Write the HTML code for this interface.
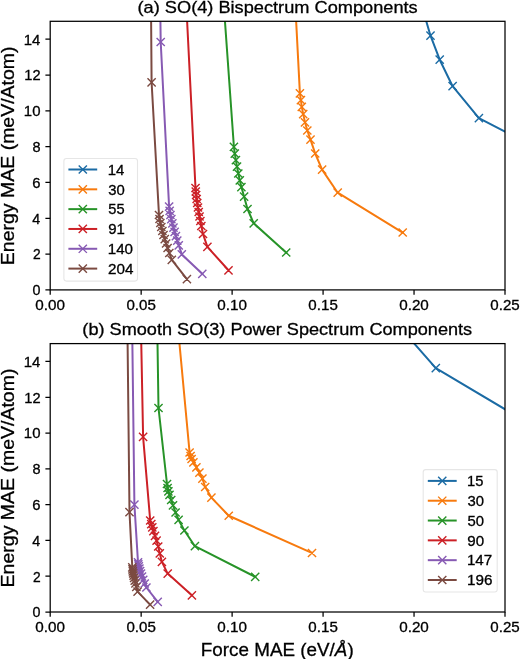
<!DOCTYPE html><html><head><meta charset="utf-8"><style>html,body{margin:0;padding:0;background:#fff;overflow:hidden}svg{display:block;will-change:transform}text{font-family:"Liberation Sans",sans-serif;font-kerning:none;fill:#000;stroke:#000;stroke-width:0.3px}</style></head><body>
<svg width="520" height="659" viewBox="0 0 520 659">
<rect width="520" height="659" fill="#fff"/>
<clipPath id="ca"><rect x="50.2" y="21.3" width="454.8" height="268.59999999999997"/></clipPath>
<g clip-path="url(#ca)">
<path d="M421.50,5.00 L430.50,35.70 L439.70,59.70 L452.60,86.20 L478.90,118.10 L540.00,150.00" fill="none" stroke="#1b6ba4" stroke-width="2.0" stroke-linejoin="round" stroke-linecap="square"/>
<path d="M426.40,31.60L434.60,39.80M426.40,39.80L434.60,31.60M435.60,55.60L443.80,63.80M435.60,63.80L443.80,55.60M448.50,82.10L456.70,90.30M448.50,90.30L456.70,82.10M474.80,114.00L483.00,122.20M474.80,122.20L483.00,114.00" fill="none" stroke="#1b6ba4" stroke-width="1.4"/>
<path d="M295.30,5.00 L299.90,93.40 L300.90,100.10 L301.80,106.90 L303.20,114.10 L305.00,122.30 L307.30,130.50 L310.50,139.60 L315.20,153.50 L322.10,169.60 L337.70,192.70 L402.70,232.50" fill="none" stroke="#f77a0e" stroke-width="2.0" stroke-linejoin="round" stroke-linecap="square"/>
<path d="M295.80,89.30L304.00,97.50M295.80,97.50L304.00,89.30M296.80,96.00L305.00,104.20M296.80,104.20L305.00,96.00M297.70,102.80L305.90,111.00M297.70,111.00L305.90,102.80M299.10,110.00L307.30,118.20M299.10,118.20L307.30,110.00M300.90,118.20L309.10,126.40M300.90,126.40L309.10,118.20M303.20,126.40L311.40,134.60M303.20,134.60L311.40,126.40M306.40,135.50L314.60,143.70M306.40,143.70L314.60,135.50M311.10,149.40L319.30,157.60M311.10,157.60L319.30,149.40M318.00,165.50L326.20,173.70M318.00,173.70L326.20,165.50M333.60,188.60L341.80,196.80M333.60,196.80L341.80,188.60M398.60,228.40L406.80,236.60M398.60,236.60L406.80,228.40" fill="none" stroke="#f77a0e" stroke-width="1.4"/>
<path d="M223.80,5.00 L233.90,146.80 L234.80,153.70 L235.90,160.20 L237.00,166.60 L238.30,173.50 L239.80,180.30 L241.40,187.10 L244.10,196.70 L247.50,209.00 L253.70,223.30 L286.20,252.50" fill="none" stroke="#279328" stroke-width="2.0" stroke-linejoin="round" stroke-linecap="square"/>
<path d="M229.80,142.70L238.00,150.90M229.80,150.90L238.00,142.70M230.70,149.60L238.90,157.80M230.70,157.80L238.90,149.60M231.80,156.10L240.00,164.30M231.80,164.30L240.00,156.10M232.90,162.50L241.10,170.70M232.90,170.70L241.10,162.50M234.20,169.40L242.40,177.60M234.20,177.60L242.40,169.40M235.70,176.20L243.90,184.40M235.70,184.40L243.90,176.20M237.30,183.00L245.50,191.20M237.30,191.20L245.50,183.00M240.00,192.60L248.20,200.80M240.00,200.80L248.20,192.60M243.40,204.90L251.60,213.10M243.40,213.10L251.60,204.90M249.60,219.20L257.80,227.40M249.60,227.40L257.80,219.20M282.10,248.40L290.30,256.60M282.10,256.60L290.30,248.40" fill="none" stroke="#279328" stroke-width="1.4"/>
<path d="M186.30,5.00 L195.50,188.00 L195.76,191.50 L196.15,195.00 L196.67,199.00 L197.25,203.00 L197.96,207.50 L198.72,212.00 L199.53,216.50 L200.37,221.00 L201.35,226.00 L203.00,234.00 L207.40,246.90 L228.50,270.30" fill="none" stroke="#cc2026" stroke-width="2.0" stroke-linejoin="round" stroke-linecap="square"/>
<path d="M191.40,183.90L199.60,192.10M191.40,192.10L199.60,183.90M191.66,187.40L199.86,195.60M191.66,195.60L199.86,187.40M192.05,190.90L200.25,199.10M192.05,199.10L200.25,190.90M192.57,194.90L200.77,203.10M192.57,203.10L200.77,194.90M193.15,198.90L201.35,207.10M193.15,207.10L201.35,198.90M193.86,203.40L202.06,211.60M193.86,211.60L202.06,203.40M194.62,207.90L202.82,216.10M194.62,216.10L202.82,207.90M195.43,212.40L203.63,220.60M195.43,220.60L203.63,212.40M196.27,216.90L204.47,225.10M196.27,225.10L204.47,216.90M197.25,221.90L205.45,230.10M197.25,230.10L205.45,221.90M198.90,229.90L207.10,238.10M198.90,238.10L207.10,229.90M203.30,242.80L211.50,251.00M203.30,251.00L211.50,242.80M224.40,266.20L232.60,274.40M224.40,274.40L232.60,266.20" fill="none" stroke="#cc2026" stroke-width="1.4"/>
<path d="M160.20,5.00 L160.70,42.00 L169.10,206.60 L169.64,210.80 L170.42,215.00 L171.34,219.20 L172.36,223.40 L173.46,227.60 L174.63,231.80 L175.91,236.20 L177.26,240.60 L178.75,245.30 L181.80,254.40 L202.30,273.80" fill="none" stroke="#875ab3" stroke-width="2.0" stroke-linejoin="round" stroke-linecap="square"/>
<path d="M156.60,37.90L164.80,46.10M156.60,46.10L164.80,37.90M165.00,202.50L173.20,210.70M165.00,210.70L173.20,202.50M165.54,206.70L173.74,214.90M165.54,214.90L173.74,206.70M166.32,210.90L174.52,219.10M166.32,219.10L174.52,210.90M167.24,215.10L175.44,223.30M167.24,223.30L175.44,215.10M168.26,219.30L176.46,227.50M168.26,227.50L176.46,219.30M169.36,223.50L177.56,231.70M169.36,231.70L177.56,223.50M170.53,227.70L178.73,235.90M170.53,235.90L178.73,227.70M171.81,232.10L180.01,240.30M171.81,240.30L180.01,232.10M173.16,236.50L181.36,244.70M173.16,244.70L181.36,236.50M174.65,241.20L182.85,249.40M174.65,249.40L182.85,241.20M177.70,250.30L185.90,258.50M177.70,258.50L185.90,250.30M198.20,269.70L206.40,277.90M198.20,277.90L206.40,269.70" fill="none" stroke="#875ab3" stroke-width="1.4"/>
<path d="M151.00,5.00 L151.60,82.30 L159.00,215.00 L159.55,219.00 L160.36,223.00 L161.31,227.00 L162.36,231.00 L163.49,235.00 L164.75,239.20 L166.11,243.50 L167.60,248.00 L169.33,253.00 L171.80,259.80 L186.90,279.20" fill="none" stroke="#7b4a41" stroke-width="2.0" stroke-linejoin="round" stroke-linecap="square"/>
<path d="M147.50,78.20L155.70,86.40M147.50,86.40L155.70,78.20M154.90,210.90L163.10,219.10M154.90,219.10L163.10,210.90M155.45,214.90L163.65,223.10M155.45,223.10L163.65,214.90M156.26,218.90L164.46,227.10M156.26,227.10L164.46,218.90M157.21,222.90L165.41,231.10M157.21,231.10L165.41,222.90M158.26,226.90L166.46,235.10M158.26,235.10L166.46,226.90M159.39,230.90L167.59,239.10M159.39,239.10L167.59,230.90M160.65,235.10L168.85,243.30M160.65,243.30L168.85,235.10M162.01,239.40L170.21,247.60M162.01,247.60L170.21,239.40M163.50,243.90L171.70,252.10M163.50,252.10L171.70,243.90M165.23,248.90L173.43,257.10M165.23,257.10L173.43,248.90M167.70,255.70L175.90,263.90M167.70,263.90L175.90,255.70M182.80,275.10L191.00,283.30M182.80,283.30L191.00,275.10" fill="none" stroke="#7b4a41" stroke-width="1.4"/>
</g>
<rect x="63.9" y="158.5" width="73.60" height="122.60" rx="2.5" fill="#fff" fill-opacity="0.8" stroke="#e6e6e6" stroke-width="1.1"/>
<path d="M68.4,169.50H97.2" stroke="#1b6ba4" stroke-width="2.0" stroke-linecap="butt"/>
<path d="M78.70,165.40L86.90,173.60M78.70,173.60L86.90,165.40" stroke="#1b6ba4" stroke-width="1.4" fill="none"/>
<text x="107.76" y="174.80" font-size="14.4" textLength="16.62" lengthAdjust="spacingAndGlyphs">14</text>
<path d="M68.4,189.32H97.2" stroke="#f77a0e" stroke-width="2.0" stroke-linecap="butt"/>
<path d="M78.70,185.22L86.90,193.42M78.70,193.42L86.90,185.22" stroke="#f77a0e" stroke-width="1.4" fill="none"/>
<text x="108.33" y="194.62" font-size="14.4" textLength="16.51" lengthAdjust="spacingAndGlyphs">30</text>
<path d="M68.4,209.14H97.2" stroke="#279328" stroke-width="2.0" stroke-linecap="butt"/>
<path d="M78.70,205.04L86.90,213.24M78.70,213.24L86.90,205.04" stroke="#279328" stroke-width="1.4" fill="none"/>
<text x="108.31" y="214.44" font-size="14.4" textLength="16.27" lengthAdjust="spacingAndGlyphs">55</text>
<path d="M68.4,228.96H97.2" stroke="#cc2026" stroke-width="2.0" stroke-linecap="butt"/>
<path d="M78.70,224.86L86.90,233.06M78.70,233.06L86.90,224.86" stroke="#cc2026" stroke-width="1.4" fill="none"/>
<text x="108.20" y="234.26" font-size="14.4" textLength="16.62" lengthAdjust="spacingAndGlyphs">91</text>
<path d="M68.4,248.78H97.2" stroke="#875ab3" stroke-width="2.0" stroke-linecap="butt"/>
<path d="M78.70,244.68L86.90,252.88M78.70,252.88L86.90,244.68" stroke="#875ab3" stroke-width="1.4" fill="none"/>
<text x="107.74" y="254.08" font-size="14.4" textLength="25.31" lengthAdjust="spacingAndGlyphs">140</text>
<path d="M68.4,268.60H97.2" stroke="#7b4a41" stroke-width="2.0" stroke-linecap="butt"/>
<path d="M78.70,264.50L86.90,272.70M78.70,272.70L86.90,264.50" stroke="#7b4a41" stroke-width="1.4" fill="none"/>
<text x="108.13" y="273.90" font-size="14.4" textLength="25.41" lengthAdjust="spacingAndGlyphs">204</text>
<rect x="50.2" y="21.3" width="454.8" height="268.59999999999997" fill="none" stroke="#000" stroke-width="1.25" stroke-linejoin="miter"/>
<path d="M50.20,289.9V294.70M141.16,289.9V294.70M232.12,289.9V294.70M323.08,289.9V294.70M414.04,289.9V294.70M505.00,289.9V294.70M45.40,289.90H50.2M45.40,254.09H50.2M45.40,218.27H50.2M45.40,182.46H50.2M45.40,146.65H50.2M45.40,110.83H50.2M45.40,75.02H50.2M45.40,39.21H50.2" stroke="#000" stroke-width="1.25"/>
<text x="35.36" y="309.60" font-size="14.4" textLength="29.67" lengthAdjust="spacingAndGlyphs">0.00</text>
<text x="126.47" y="309.60" font-size="14.4" textLength="29.42" lengthAdjust="spacingAndGlyphs">0.05</text>
<text x="217.28" y="309.60" font-size="14.4" textLength="29.67" lengthAdjust="spacingAndGlyphs">0.10</text>
<text x="308.39" y="309.60" font-size="14.4" textLength="29.42" lengthAdjust="spacingAndGlyphs">0.15</text>
<text x="399.20" y="309.60" font-size="14.4" textLength="29.67" lengthAdjust="spacingAndGlyphs">0.20</text>
<text x="490.31" y="309.60" font-size="14.4" textLength="29.42" lengthAdjust="spacingAndGlyphs">0.25</text>
<text x="32.49" y="295.20" font-size="14.4" textLength="7.97" lengthAdjust="spacingAndGlyphs">0</text>
<text x="32.91" y="259.39" font-size="14.4" textLength="7.69" lengthAdjust="spacingAndGlyphs">2</text>
<text x="32.35" y="223.57" font-size="14.4" textLength="7.97" lengthAdjust="spacingAndGlyphs">4</text>
<text x="32.30" y="187.76" font-size="14.4" textLength="8.25" lengthAdjust="spacingAndGlyphs">6</text>
<text x="32.47" y="151.95" font-size="14.4" textLength="8.06" lengthAdjust="spacingAndGlyphs">8</text>
<text x="23.85" y="116.13" font-size="14.4" textLength="16.63" lengthAdjust="spacingAndGlyphs">10</text>
<text x="24.33" y="80.32" font-size="14.4" textLength="16.30" lengthAdjust="spacingAndGlyphs">12</text>
<text x="23.71" y="44.51" font-size="14.4" textLength="16.62" lengthAdjust="spacingAndGlyphs">14</text>
<text x="137.57" y="12.80" font-size="17.0" textLength="280.09" lengthAdjust="spacingAndGlyphs">(a) SO(4) Bispectrum Components</text>
<g transform="translate(14.1,155.60) rotate(-90)"><text x="-109.58" y="0.00" font-size="19.0" textLength="218.78" lengthAdjust="spacingAndGlyphs">Energy MAE (meV/Atom)</text></g>
<clipPath id="cb"><rect x="50.2" y="343.6" width="454.8" height="268.4"/></clipPath>
<g clip-path="url(#cb)">
<path d="M405.00,333.00 L435.80,368.20 L540.00,430.00" fill="none" stroke="#1b6ba4" stroke-width="2.0" stroke-linejoin="round" stroke-linecap="square"/>
<path d="M431.70,364.10L439.90,372.30M431.70,372.30L439.90,364.10" fill="none" stroke="#1b6ba4" stroke-width="1.4"/>
<path d="M178.20,330.00 L189.60,452.50 L190.60,456.00 L191.60,459.00 L193.40,462.30 L196.40,467.30 L199.40,472.70 L202.40,478.60 L205.20,487.00 L211.40,497.60 L228.75,515.75 L312.00,553.00" fill="none" stroke="#f77a0e" stroke-width="2.0" stroke-linejoin="round" stroke-linecap="square"/>
<path d="M185.50,448.40L193.70,456.60M185.50,456.60L193.70,448.40M186.50,451.90L194.70,460.10M186.50,460.10L194.70,451.90M187.50,454.90L195.70,463.10M187.50,463.10L195.70,454.90M189.30,458.20L197.50,466.40M189.30,466.40L197.50,458.20M192.30,463.20L200.50,471.40M192.30,471.40L200.50,463.20M195.30,468.60L203.50,476.80M195.30,476.80L203.50,468.60M198.30,474.50L206.50,482.70M198.30,482.70L206.50,474.50M201.10,482.90L209.30,491.10M201.10,491.10L209.30,482.90M207.30,493.50L215.50,501.70M207.30,501.70L215.50,493.50M224.65,511.65L232.85,519.85M224.65,519.85L232.85,511.65M307.90,548.90L316.10,557.10M307.90,557.10L316.10,548.90" fill="none" stroke="#f77a0e" stroke-width="1.4"/>
<path d="M157.30,330.00 L158.50,408.00 L167.00,484.00 L167.60,488.00 L168.40,491.30 L169.50,494.80 L171.20,500.00 L173.00,505.30 L175.60,512.50 L178.60,519.90 L184.40,530.50 L194.90,546.20 L255.20,576.80" fill="none" stroke="#279328" stroke-width="2.0" stroke-linejoin="round" stroke-linecap="square"/>
<path d="M154.40,403.90L162.60,412.10M154.40,412.10L162.60,403.90M162.90,479.90L171.10,488.10M162.90,488.10L171.10,479.90M163.50,483.90L171.70,492.10M163.50,492.10L171.70,483.90M164.30,487.20L172.50,495.40M164.30,495.40L172.50,487.20M165.40,490.70L173.60,498.90M165.40,498.90L173.60,490.70M167.10,495.90L175.30,504.10M167.10,504.10L175.30,495.90M168.90,501.20L177.10,509.40M168.90,509.40L177.10,501.20M171.50,508.40L179.70,516.60M171.50,516.60L179.70,508.40M174.50,515.80L182.70,524.00M174.50,524.00L182.70,515.80M180.30,526.40L188.50,534.60M180.30,534.60L188.50,526.40M190.80,542.10L199.00,550.30M190.80,550.30L199.00,542.10M251.10,572.70L259.30,580.90M251.10,580.90L259.30,572.70" fill="none" stroke="#279328" stroke-width="1.4"/>
<path d="M141.00,330.00 L143.10,436.80 L150.20,520.50 L151.30,524.20 L152.30,527.40 L153.40,531.10 L155.00,535.90 L156.60,540.70 L158.20,546.50 L159.80,553.40 L161.90,561.90 L167.70,573.60 L191.90,595.30" fill="none" stroke="#cc2026" stroke-width="2.0" stroke-linejoin="round" stroke-linecap="square"/>
<path d="M139.00,432.70L147.20,440.90M139.00,440.90L147.20,432.70M146.10,516.40L154.30,524.60M146.10,524.60L154.30,516.40M147.20,520.10L155.40,528.30M147.20,528.30L155.40,520.10M148.20,523.30L156.40,531.50M148.20,531.50L156.40,523.30M149.30,527.00L157.50,535.20M149.30,535.20L157.50,527.00M150.90,531.80L159.10,540.00M150.90,540.00L159.10,531.80M152.50,536.60L160.70,544.80M152.50,544.80L160.70,536.60M154.10,542.40L162.30,550.60M154.10,550.60L162.30,542.40M155.70,549.30L163.90,557.50M155.70,557.50L163.90,549.30M157.80,557.80L166.00,566.00M157.80,566.00L166.00,557.80M163.60,569.50L171.80,577.70M163.60,577.70L171.80,569.50M187.80,591.20L196.00,599.40M187.80,599.40L196.00,591.20" fill="none" stroke="#cc2026" stroke-width="1.4"/>
<path d="M132.20,330.00 L134.40,504.60 L138.00,562.30 L138.31,564.30 L138.79,566.40 L139.39,568.60 L140.11,571.00 L140.96,573.60 L141.99,576.50 L143.23,579.80 L144.71,583.50 L146.40,587.50 L157.70,601.80" fill="none" stroke="#875ab3" stroke-width="2.0" stroke-linejoin="round" stroke-linecap="square"/>
<path d="M130.30,500.50L138.50,508.70M130.30,508.70L138.50,500.50M133.90,558.20L142.10,566.40M133.90,566.40L142.10,558.20M134.21,560.20L142.41,568.40M134.21,568.40L142.41,560.20M134.69,562.30L142.89,570.50M134.69,570.50L142.89,562.30M135.29,564.50L143.49,572.70M135.29,572.70L143.49,564.50M136.01,566.90L144.21,575.10M136.01,575.10L144.21,566.90M136.86,569.50L145.06,577.70M136.86,577.70L145.06,569.50M137.89,572.40L146.09,580.60M137.89,580.60L146.09,572.40M139.13,575.70L147.33,583.90M139.13,583.90L147.33,575.70M140.61,579.40L148.81,587.60M140.61,587.60L148.81,579.40M142.30,583.40L150.50,591.60M142.30,591.60L150.50,583.40M153.60,597.70L161.80,605.90M153.60,605.90L161.80,597.70" fill="none" stroke="#875ab3" stroke-width="1.4"/>
<path d="M127.45,330.00 L129.50,512.20 L132.30,567.40 L132.49,569.30 L132.79,571.30 L133.16,573.40 L133.60,575.60 L134.11,578.00 L134.71,580.60 L135.42,583.50 L136.33,587.00 L137.60,591.60 L150.10,604.60" fill="none" stroke="#7b4a41" stroke-width="2.0" stroke-linejoin="round" stroke-linecap="square"/>
<path d="M125.40,508.10L133.60,516.30M125.40,516.30L133.60,508.10M128.20,563.30L136.40,571.50M128.20,571.50L136.40,563.30M128.39,565.20L136.59,573.40M128.39,573.40L136.59,565.20M128.69,567.20L136.89,575.40M128.69,575.40L136.89,567.20M129.06,569.30L137.26,577.50M129.06,577.50L137.26,569.30M129.50,571.50L137.70,579.70M129.50,579.70L137.70,571.50M130.01,573.90L138.21,582.10M130.01,582.10L138.21,573.90M130.61,576.50L138.81,584.70M130.61,584.70L138.81,576.50M131.32,579.40L139.52,587.60M131.32,587.60L139.52,579.40M132.23,582.90L140.43,591.10M132.23,591.10L140.43,582.90M133.50,587.50L141.70,595.70M133.50,595.70L141.70,587.50M146.00,600.50L154.20,608.70M146.00,608.70L154.20,600.50" fill="none" stroke="#7b4a41" stroke-width="1.4"/>
</g>
<rect x="423.2" y="469.6" width="74.00" height="122.40" rx="2.5" fill="#fff" fill-opacity="0.8" stroke="#e6e6e6" stroke-width="1.1"/>
<path d="M427.8,480.90H456.7" stroke="#1b6ba4" stroke-width="2.0" stroke-linecap="butt"/>
<path d="M438.15,476.80L446.35,485.00M438.15,485.00L446.35,476.80" stroke="#1b6ba4" stroke-width="1.4" fill="none"/>
<text x="466.98" y="486.20" font-size="14.4" textLength="16.36" lengthAdjust="spacingAndGlyphs">15</text>
<path d="M427.8,500.72H456.7" stroke="#f77a0e" stroke-width="2.0" stroke-linecap="butt"/>
<path d="M438.15,496.62L446.35,504.82M438.15,504.82L446.35,496.62" stroke="#f77a0e" stroke-width="1.4" fill="none"/>
<text x="467.53" y="506.02" font-size="14.4" textLength="16.51" lengthAdjust="spacingAndGlyphs">30</text>
<path d="M427.8,520.54H456.7" stroke="#279328" stroke-width="2.0" stroke-linecap="butt"/>
<path d="M438.15,516.44L446.35,524.64M438.15,524.64L446.35,516.44" stroke="#279328" stroke-width="1.4" fill="none"/>
<text x="467.51" y="525.84" font-size="14.4" textLength="16.53" lengthAdjust="spacingAndGlyphs">50</text>
<path d="M427.8,540.36H456.7" stroke="#cc2026" stroke-width="2.0" stroke-linecap="butt"/>
<path d="M438.15,536.26L446.35,544.46M438.15,544.46L446.35,536.26" stroke="#cc2026" stroke-width="1.4" fill="none"/>
<text x="467.39" y="545.66" font-size="14.4" textLength="16.85" lengthAdjust="spacingAndGlyphs">90</text>
<path d="M427.8,560.18H456.7" stroke="#875ab3" stroke-width="2.0" stroke-linecap="butt"/>
<path d="M438.15,556.08L446.35,564.28M438.15,564.28L446.35,556.08" stroke="#875ab3" stroke-width="1.4" fill="none"/>
<text x="466.95" y="565.48" font-size="14.4" textLength="25.21" lengthAdjust="spacingAndGlyphs">147</text>
<path d="M427.8,580.00H456.7" stroke="#7b4a41" stroke-width="2.0" stroke-linecap="butt"/>
<path d="M438.15,575.90L446.35,584.10M438.15,584.10L446.35,575.90" stroke="#7b4a41" stroke-width="1.4" fill="none"/>
<text x="466.94" y="585.30" font-size="14.4" textLength="25.44" lengthAdjust="spacingAndGlyphs">196</text>
<rect x="50.2" y="343.6" width="454.8" height="268.4" fill="none" stroke="#000" stroke-width="1.25" stroke-linejoin="miter"/>
<path d="M50.20,612.0V616.80M141.16,612.0V616.80M232.12,612.0V616.80M323.08,612.0V616.80M414.04,612.0V616.80M505.00,612.0V616.80M45.40,612.00H50.2M45.40,576.21H50.2M45.40,540.43H50.2M45.40,504.64H50.2M45.40,468.85H50.2M45.40,433.07H50.2M45.40,397.28H50.2M45.40,361.49H50.2" stroke="#000" stroke-width="1.25"/>
<text x="35.36" y="631.70" font-size="14.4" textLength="29.67" lengthAdjust="spacingAndGlyphs">0.00</text>
<text x="126.47" y="631.70" font-size="14.4" textLength="29.42" lengthAdjust="spacingAndGlyphs">0.05</text>
<text x="217.28" y="631.70" font-size="14.4" textLength="29.67" lengthAdjust="spacingAndGlyphs">0.10</text>
<text x="308.39" y="631.70" font-size="14.4" textLength="29.42" lengthAdjust="spacingAndGlyphs">0.15</text>
<text x="399.20" y="631.70" font-size="14.4" textLength="29.67" lengthAdjust="spacingAndGlyphs">0.20</text>
<text x="490.31" y="631.70" font-size="14.4" textLength="29.42" lengthAdjust="spacingAndGlyphs">0.25</text>
<text x="32.49" y="617.30" font-size="14.4" textLength="7.97" lengthAdjust="spacingAndGlyphs">0</text>
<text x="32.91" y="581.51" font-size="14.4" textLength="7.69" lengthAdjust="spacingAndGlyphs">2</text>
<text x="32.35" y="545.73" font-size="14.4" textLength="7.97" lengthAdjust="spacingAndGlyphs">4</text>
<text x="32.30" y="509.94" font-size="14.4" textLength="8.25" lengthAdjust="spacingAndGlyphs">6</text>
<text x="32.47" y="474.15" font-size="14.4" textLength="8.06" lengthAdjust="spacingAndGlyphs">8</text>
<text x="23.85" y="438.37" font-size="14.4" textLength="16.63" lengthAdjust="spacingAndGlyphs">10</text>
<text x="24.33" y="402.58" font-size="14.4" textLength="16.30" lengthAdjust="spacingAndGlyphs">12</text>
<text x="23.71" y="366.79" font-size="14.4" textLength="16.62" lengthAdjust="spacingAndGlyphs">14</text>
<text x="82.38" y="335.00" font-size="17.0" textLength="389.78" lengthAdjust="spacingAndGlyphs">(b) Smooth SO(3) Power Spectrum Components</text>
<g transform="translate(14.1,477.80) rotate(-90)"><text x="-109.58" y="0.00" font-size="19.0" textLength="218.78" lengthAdjust="spacingAndGlyphs">Energy MAE (meV/Atom)</text></g>
<text x="0" y="0" font-size="0"></text>
<text x="200.85" y="656.20" font-size="18.8" textLength="152.81" lengthAdjust="spacingAndGlyphs">Force MAE (eV/<tspan font-style="italic">Å</tspan>)</text>
</svg></body></html>
